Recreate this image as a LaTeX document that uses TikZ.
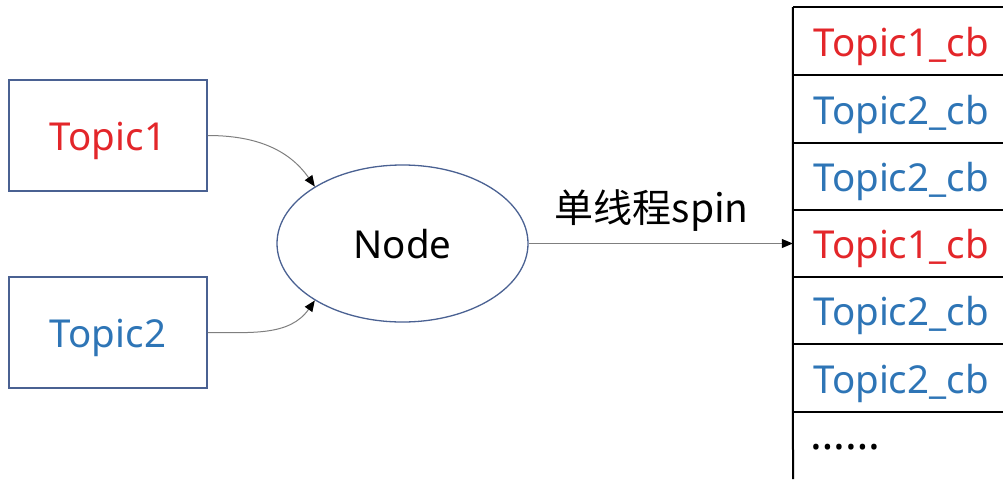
\documentclass[tikz,border=0pt]{standalone}
\usepackage{fontspec}
\setmainfont{Noto Sans}
\newfontfamily\cjk{Noto Sans CJK SC}
\usetikzlibrary{shapes.geometric,arrows.meta}
\definecolor{boxblue}{HTML}{4A6192}
\definecolor{tred}{HTML}{E3262A}
\definecolor{tblue}{HTML}{2E75B6}
\definecolor{conngray}{HTML}{7F7F7F}
\tikzset{
  txt/.style={font=\fontsize{38.5}{40}\selectfont, text height=40.5pt, text depth=9.6pt},
  topicbox/.style={txt, draw=boxblue, line width=1.5pt, minimum width=198pt, minimum height=111pt, inner sep=0pt},
  nodeell/.style={txt, ellipse, draw=boxblue, line width=1.3pt, minimum width=251pt, minimum height=157pt, inner sep=0pt},
  rowcell/.style={txt, minimum width=216pt, minimum height=67.5pt, inner sep=0pt},
  conn/.style={draw=conngray, line width=1pt, -{Triangle[length=11pt,width=9pt,fill=black,color=black]}},
  colline/.style={draw=black, line width=2pt},
}
\begin{document}
\begin{tikzpicture}[x=1pt,y=-1pt]
\useasboundingbox (0,0) rectangle (1003,479);
\node[topicbox, text=tred] (t1) at (108,135.5) {Topic1};
\node[topicbox, text=tblue] (t2) at (108,332.5) {Topic2};
\node[nodeell] (n) at (402.5,243.5) {Node};

\node[rowcell, text=tred]  (r1) at (901,41) {Topic1\_cb};
\node[rowcell, text=tblue] (r2) at (901,109) {Topic2\_cb};
\node[rowcell, text=tblue] (r3) at (901,176.5) {Topic2\_cb};
\node[rowcell, text=tred]  (r4) at (901,243.5) {Topic1\_cb};
\node[rowcell, text=tblue] (r5) at (901,310.5) {Topic2\_cb};
\node[rowcell, text=tblue] (r6) at (901,378) {Topic2\_cb};
\node[anchor=base west, inner sep=0pt, font={\fontsize{44}{46}\selectfont\bfseries}] (r7) at (810,449) {……};

\coordinate (colbot) at (793,479);
\draw[colline] (r1.north west) -- (colbot);
\draw[colline] (r1.north west) -- (r1.north east);
\draw[colline] (r1.south west) -- (r1.south east);
\draw[colline] (r2.south west) -- (r2.south east);
\draw[colline] (r3.south west) -- (r3.south east);
\draw[colline] (r4.south west) -- (r4.south east);
\draw[colline] (r5.south west) -- (r5.south east);
\draw[colline] (r6.south west) -- (r6.south east);

\draw[conn] (t1.east) to[out=0, in=125] (n.147);
\draw[conn] (t2.east) to[out=0, in=235] (n.213);
\draw[conn] (n.east) -- node[above=11pt, xshift=-9pt, inner sep=0pt, text height=30pt, text depth=9.6pt, font={\fontsize{39}{41}\cjk}] (lbl) {单线程spin} (r4.west);
\end{tikzpicture}
\end{document}
